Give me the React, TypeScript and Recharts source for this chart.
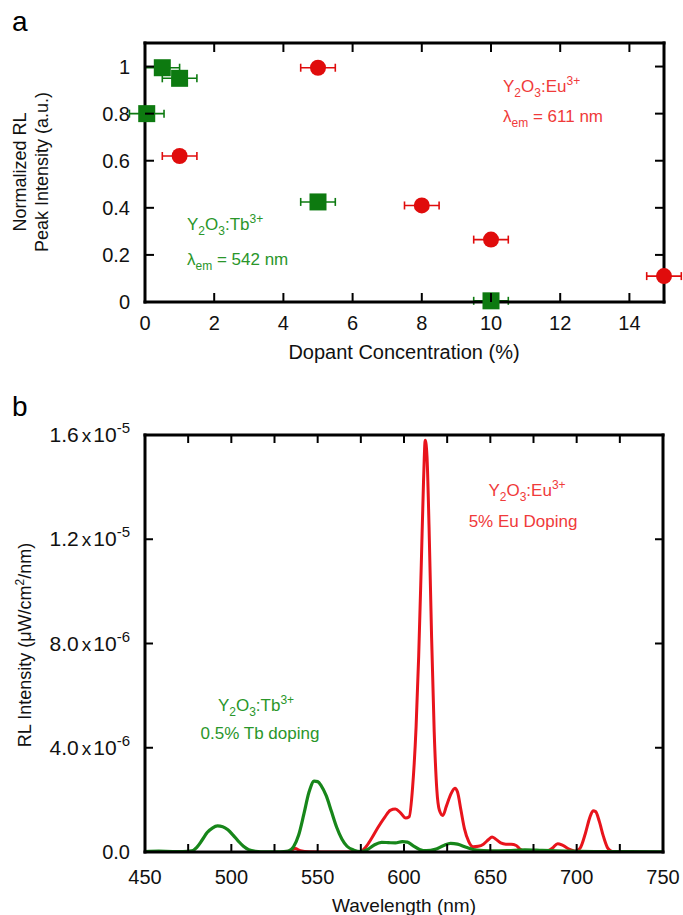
import React from "react";
import { ScatterChart, Scatter, XAxis, YAxis, ErrorBar, LineChart, Line } from "recharts";

// panel a: normalized RL peak intensity vs dopant concentration
const euConc = [1, 5, 8, 10, 15];
const euPeak = [0.62, 0.995, 0.41, 0.265, 0.11];
const euConcErr = [0.5, 0.5, 0.5, 0.5, 0.5];
const tbConc = [0.05, 0.5, 1, 5, 10];
const tbPeak = [0.8, 0.995, 0.95, 0.425, 0.005];
const tbConcErr = [0.5, 0.5, 0.5, 0.5, 0.5];
const concTicks = [0, 2, 4, 6, 8, 10, 12, 14];
const peakTicks = [0, 0.2, 0.4, 0.6, 0.8, 1];
const peakLabels = ["0", "0.2", "0.4", "0.6", "0.8", "1"];

// panel b: RL spectra, intensity in units of 1e-6 uW/cm2/nm
const euWl = [530, 534, 537, 540, 545, 560, 575, 578, 581, 585, 589, 592, 595, 598, 601, 603, 605, 607, 608.5, 610, 611.3, 612.3, 613.3, 614.5, 616, 617.5, 619, 620.5, 622.5, 624.5, 627, 629.5, 631, 633, 635, 637.5, 640, 643, 646, 649, 651, 653, 656, 659, 662, 665, 667, 670, 675, 682, 686, 689, 692, 696, 699, 702, 705, 707.5, 709.5, 711, 713, 715.5, 718, 721];
const euInt = [0, 0.04, 0.13, 0.05, 0.01, 0, 0.02, 0.2, 0.5, 0.95, 1.35, 1.6, 1.65, 1.5, 1.3, 1.35, 2.5, 4.8, 7.5, 11, 14.2, 15.8, 15.2, 12.5, 8.2, 4.6, 2.4, 1.6, 1.4, 1.75, 2.2, 2.45, 2.3, 1.6, 0.9, 0.4, 0.2, 0.22, 0.3, 0.48, 0.58, 0.5, 0.35, 0.3, 0.3, 0.25, 0.12, 0.04, 0.02, 0.02, 0.15, 0.32, 0.25, 0.1, 0.03, 0.15, 0.7, 1.3, 1.58, 1.55, 1.2, 0.6, 0.15, 0];
const tbWl = [450, 458, 466, 472, 477, 480, 483, 486, 489, 492, 495, 498, 501, 504, 507, 510, 514, 520, 528, 533, 536, 539, 542, 545, 548, 550, 552, 555, 558, 561, 564, 567, 571, 575, 579, 583, 587, 591, 595, 599, 602, 605, 609, 613, 618, 623, 627, 631, 636, 642, 650, 660, 670, 680, 695, 710, 730, 750];
const tbInt = [0.02, 0.03, 0.02, 0.02, 0.04, 0.18, 0.45, 0.75, 0.92, 1.0, 0.97, 0.85, 0.65, 0.42, 0.22, 0.09, 0.03, 0.01, 0.01, 0.04, 0.2, 0.65, 1.45, 2.3, 2.72, 2.7, 2.55, 2.15, 1.55, 0.95, 0.5, 0.22, 0.07, 0.02, 0.1, 0.28, 0.37, 0.36, 0.35, 0.4, 0.38, 0.25, 0.1, 0.05, 0.1, 0.25, 0.33, 0.3, 0.18, 0.07, 0.04, 0.05, 0.08, 0.06, 0.03, 0.02, 0.02, 0.01];
const wlTicks = [450, 475, 500, 525, 550, 575, 600, 625, 650, 675, 700, 725, 750];
const intTicks = [0, 4, 8, 12, 16];
const intMant = ["0.0", "4.0", "8.0", "1.2", "1.6"];
const intExp = ["", "-6", "-6", "-5", "-5"];

const FONT = "'Liberation Sans', Arial, Helvetica, sans-serif";
const RED = "#e00c0c";
const GREEN = "#0d7a10";
const RED_TXT = "#f03a3a";
const GREEN_TXT = "#2a962a";

const euPoints = euConc.map((x, i) => ({ x, y: euPeak[i], err: euConcErr[i] }));
const tbPoints = tbConc.map((x, i) => ({ x, y: tbPeak[i], err: tbConcErr[i] }));
const euSpec = euWl.map((x, i) => ({ x, y: euInt[i] }));
const tbSpec = tbWl.map((x, i) => ({ x, y: tbInt[i] }));

// inward tick marks; labels drawn by the same renderer
function makeTick(side: string, len: number, gap: number, label?: (v: number) => any) {
  return (p: any) => {
    const { x, y, payload } = p;
    const v = payload.value;
    let line;
    if (side === "bottom") line = <line x1={x} x2={x} y1={y} y2={y - len} />;
    else if (side === "top") line = <line x1={x} x2={x} y1={y} y2={y + len} />;
    else if (side === "left") line = <line x1={x} x2={x + len} y1={y} y2={y} />;
    else line = <line x1={x} x2={x - len} y1={y} y2={y} />;
    const txt = label ? label(v) : null;
    return (
      <g>
        <g stroke="#000" strokeWidth={2}>{line}</g>
        {txt != null && side === "bottom" && (
          <text x={x} y={y + gap} dy="0.35em" textAnchor="middle" fontSize={20} fontFamily={FONT} fill="#111">{txt}</text>
        )}
        {txt != null && side === "left" && (
          <text x={x - gap} y={y} dy="0.35em" textAnchor="end" fontSize={20} fontFamily={FONT} fill="#111">{txt}</text>
        )}
      </g>
    );
  };
}

const frame = { stroke: "#000", strokeWidth: 3, strokeLinecap: "square" as const };

function intLabel(v: number) {
  const i = intTicks.indexOf(v);
  if (!intExp[i]) return intMant[i];
  return [
    <tspan key="m" fontSize={21}>{intMant[i]}</tspan>,
    <tspan key="x" fontSize={19} dx={3}>x</tspan>,
    <tspan key="t" fontSize={21} dx={2}>10</tspan>,
    <tspan key="e" fontSize={15} dy={-9}>{intExp[i]}</tspan>,
  ];
}

function Chem({ x, y, ion, color, anchor, size }: any) {
  const s = Math.round(size * 0.68);
  return (
    <text x={x} y={y} fill={color} fontSize={size} fontFamily={FONT} textAnchor={anchor}>
      Y<tspan fontSize={s} dy={5}>2</tspan>
      <tspan dy={-5}>O</tspan>
      <tspan fontSize={s} dy={5}>3</tspan>
      <tspan dy={-5}>:{ion}</tspan>
      <tspan fontSize={s} dy={-7}>3+</tspan>
    </text>
  );
}

function Lambda({ x, y, nm, color }: any) {
  return (
    <text x={x} y={y} fill={color} fontSize={17} fontFamily={FONT}>
      λ<tspan fontSize={12} dy={5}>em</tspan>
      <tspan dy={-5}> = {nm} nm</tspan>
    </text>
  );
}

const axisCommon = { interval: 0 as const, tickSize: 0, tickMargin: 0, tickLine: false, axisLine: frame, allowDataOverflow: true };

function PanelA() {
  return (
    <ScatterChart width={683} height={380} margin={{ top: 42, right: 18, bottom: 77, left: 144 }}>
      <XAxis xAxisId={0} type="number" dataKey="x" domain={[0, 15]} ticks={concTicks} height={1} {...axisCommon}
        tick={makeTick("bottom", 9, 21, (v) => String(v))} />
      <XAxis xAxisId="top" orientation="top" type="number" dataKey="x" domain={[0, 15]} ticks={concTicks} height={1}
        {...axisCommon} tick={makeTick("top", 9, 0)} />
      <YAxis yAxisId={0} type="number" dataKey="y" domain={[0, 1.1]} ticks={peakTicks} width={1} {...axisCommon}
        tick={makeTick("left", 9, 15, (v) => peakLabels[peakTicks.indexOf(v)])} />
      <YAxis yAxisId="right" orientation="right" type="number" dataKey="y" domain={[0, 1.1]} ticks={peakTicks} width={1}
        {...axisCommon} tick={makeTick("right", 9, 0)} />
      <Scatter data={euPoints} isAnimationActive={false}
        shape={(p: any) => <circle cx={p.cx} cy={p.cy} r={8} fill={RED} />}>
        <ErrorBar dataKey="err" direction="x" width={4} stroke={RED} strokeWidth={1.6} />
      </Scatter>
      <Scatter data={tbPoints} isAnimationActive={false}
        shape={(p: any) => <rect x={p.cx - 8.5} y={p.cy - 8.5} width={17} height={17} fill={GREEN} />}>
        <ErrorBar dataKey="err" direction="x" width={4} stroke={GREEN} strokeWidth={1.6} />
      </Scatter>
      <text x={12} y={31} fontSize={28} fontFamily={FONT} fill="#000">a</text>
      <Chem x={503} y={92} ion="Eu" color={RED_TXT} anchor="start" size={17} />
      <Lambda x={503} y={122} nm="611" color={RED_TXT} />
      <Chem x={187} y={230} ion="Tb" color={GREEN_TXT} anchor="start" size={17} />
      <Lambda x={187} y={265} nm="542" color={GREEN_TXT} />
      <text x={404} y={352} dy="0.35em" textAnchor="middle" fontSize={20} fontFamily={FONT} fill="#111">Dopant Concentration (%)</text>
      <text transform="rotate(-90 20 172)" x={20} y={172} dy="0.35em" textAnchor="middle" fontSize={18} fontFamily={FONT} fill="#111">Normalized RL</text>
      <text transform="rotate(-90 42 172)" x={42} y={172} dy="0.35em" textAnchor="middle" fontSize={18} fontFamily={FONT} fill="#111">Peak Intensity (a.u.)</text>
    </ScatterChart>
  );
}

function PanelB() {
  return (
    <LineChart width={683} height={535} margin={{ top: 54, right: 19, bottom: 62, left: 144 }}>
      <XAxis xAxisId={0} type="number" dataKey="x" domain={[450, 750]} ticks={wlTicks} height={1} {...axisCommon}
        tick={makeTick("bottom", 8, 25, (v) => (v % 50 === 0 ? String(v) : null))} />
      <XAxis xAxisId="top" orientation="top" type="number" dataKey="x" domain={[450, 750]} ticks={wlTicks} height={1}
        {...axisCommon} tick={makeTick("top", 8, 0)} />
      <YAxis yAxisId={0} type="number" domain={[0, 16]} ticks={intTicks} width={1} {...axisCommon}
        tick={makeTick("left", 8, 15, intLabel)} />
      <YAxis yAxisId="right" orientation="right" type="number" domain={[0, 16]} ticks={intTicks} width={1}
        {...axisCommon} tick={makeTick("right", 8, 0)} />
      <Line data={euSpec} dataKey="y" type="monotone" dot={false} stroke="#e8141c" strokeWidth={3} isAnimationActive={false} />
      <Line data={tbSpec} dataKey="y" type="monotone" dot={false} stroke="#17861a" strokeWidth={3.2} isAnimationActive={false} />
      <text x={12} y={36} fontSize={28} fontFamily={FONT} fill="#000">b</text>
      <Chem x={527} y={116} ion="Eu" color={RED_TXT} anchor="middle" size={17} />
      <text x={523} y={147} textAnchor="middle" fontSize={17} fontFamily={FONT} fill={RED_TXT}>5% Eu Doping</text>
      <Chem x={256} y={331} ion="Tb" color={GREEN_TXT} anchor="middle" size={17} />
      <text x={260} y={359} textAnchor="middle" fontSize={17} fontFamily={FONT} fill={GREEN_TXT}>0.5% Tb doping</text>
      <text x={404} y={525} dy="0.35em" textAnchor="middle" fontSize={19} fontFamily={FONT} fill="#111">Wavelength (nm)</text>
      <text transform="rotate(-90 25 265)" x={25} y={265} dy="0.35em" textAnchor="middle" fontSize={18} fontFamily={FONT} fill="#111">
        RL Intensity (μW/cm<tspan fontSize={12} dy={-7}>2</tspan><tspan dy={7}>/nm)</tspan>
      </text>
    </LineChart>
  );
}

export default function App() {
  return (
    <div style={{ position: "absolute", left: 0, top: 0, width: 683, height: 915, background: "#fff" }}>
      <style>{"svg g[clip-path] { clip-path: none !important; }"}</style>
      <PanelA />
      <PanelB />
    </div>
  );
}
